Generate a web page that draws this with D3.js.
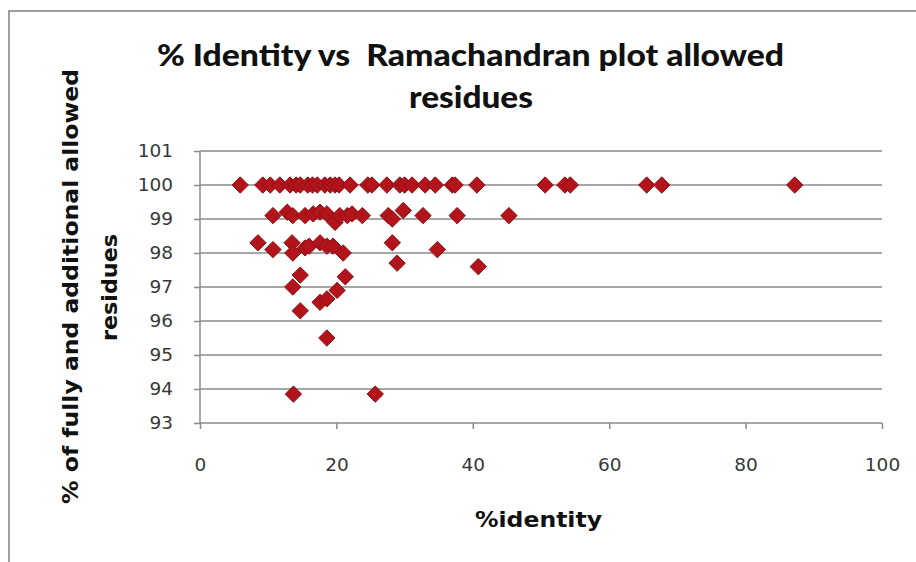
<!DOCTYPE html>
<html><head><meta charset="utf-8">
<script src="https://cdn.jsdelivr.net/npm/d3@7"></script>
<style>body{margin:0;background:#fff}svg{display:block}text{white-space:pre}</style>
</head><body>
<svg id="c" width="916" height="562"></svg>
<script>
// % identity values and % allowed residues
const identity = [
  5.9, 9.2, 10.3, 11.7, 13.2, 14.1, 14.7, 15.8, 16.5, 17.2, 18.3, 19.1, 19.8, 20.4, 22.0, 24.6, 25.2, 27.4, 29.3, 30.0, 31.1, 33.0, 34.5, 37.0, 37.4, 40.6, 50.6, 53.5, 54.3, 65.5, 67.7, 87.2,
  10.7, 12.8, 13.6, 15.4, 16.6, 17.6, 18.6, 19.8, 20.5, 21.6, 22.3, 23.8, 27.6, 28.2, 29.8, 32.7, 37.7, 45.3,
  8.5, 10.7, 13.5, 13.6, 15.4, 16.0, 17.6, 18.6, 19.5, 21.0, 28.2, 28.9, 34.8, 40.8,
  14.7, 13.6, 21.3, 20.1, 17.6, 18.6, 14.7, 18.6, 13.7, 25.7
];
const allowed = [
  100, 100, 100, 100, 100, 100, 100, 100, 100, 100, 100, 100, 100, 100, 100, 100, 100, 100, 100, 100, 100, 100, 100, 100, 100, 100, 100, 100, 100, 100, 100, 100,
  99.1, 99.2, 99.1, 99.1, 99.15, 99.2, 99.15, 98.9, 99.1, 99.1, 99.15, 99.1, 99.1, 99.0, 99.25, 99.1, 99.1, 99.1,
  98.3, 98.1, 98.3, 98.0, 98.15, 98.2, 98.3, 98.2, 98.2, 98.0, 98.3, 97.7, 98.1, 97.6,
  97.35, 97.0, 97.3, 96.9, 96.55, 96.65, 96.3, 95.5, 93.85, 93.85
];
const xTicks = [0, 20, 40, 60, 80, 100];
const yTicks = [93, 94, 95, 96, 97, 98, 99, 100, 101];
const titleLines = ["% Identity vs  Ramachandran plot allowed", "residues"];
const yTitleLines = ["% of fully and additional allowed", "residues"];
const xTitle = "%identity";

const svg = d3.select("#c");
const titleFont = "Lato, 'Open Sans', sans-serif";
const axisFont = "'DejaVu Sans', Verdana, sans-serif";
const L = 200, R = 882, T = 151, B = 423;
const x = d3.scaleLinear().domain([0, 100]).range([L, R]);
const y = d3.scaleLinear().domain([93, 101]).range([B, T]);

// frame
svg.append("path").attr("d", "M9,562 V11 H916").attr("fill", "none")
  .attr("stroke", "#a0a0a0").attr("stroke-width", 2);

// gridlines
svg.append("g").selectAll("line").data(yTicks.filter(d => d > 93)).join("line")
  .attr("x1", L).attr("x2", R).attr("y1", d => y(d)).attr("y2", d => y(d))
  .attr("stroke", "#8a8a8a").attr("stroke-width", 1.5);

// axes
const yAxis = svg.append("g").attr("transform", `translate(${L},0)`)
  .call(d3.axisLeft(y).tickValues(yTicks).tickSize(6).tickPadding(21).tickFormat(d3.format("d")));
const xAxis = svg.append("g").attr("transform", `translate(0,${B})`)
  .call(d3.axisBottom(x).tickValues(xTicks).tickSize(6).tickPadding(29).tickFormat(d3.format("d")));
[yAxis, xAxis].forEach(g => {
  g.select(".domain").attr("stroke", "#8a8a8a").attr("stroke-width", 1.5);
  g.selectAll(".tick line").attr("stroke", "#8a8a8a").attr("stroke-width", 1.5);
  g.selectAll("text").attr("font-family", axisFont).attr("font-size", 18.5).attr("fill", "#383838");
});
xAxis.select(".domain").attr("d", `M${L},0H${R}`);
yAxis.select(".domain").attr("d", `M0,${T}V${B}`);

// points
const diamond = d3.symbol().type(d3.symbolDiamond2).size(170);
svg.append("g").selectAll("path").data(identity.map((v, i) => [v, allowed[i]])).join("path")
  .attr("d", diamond)
  .attr("transform", d => `translate(${x(d[0])},${y(d[1])})`)
  .attr("fill", "#b3141b").attr("stroke", "#8a0f13").attr("stroke-width", 1);

// titles
svg.append("text").attr("x", 157).attr("y", 66)
  .attr("textLength", 627).attr("lengthAdjust", "spacingAndGlyphs")
  .attr("font-family", titleFont).attr("font-weight", "900").attr("font-size", 31).attr("fill", "#111")
  .text(titleLines[0]);
svg.append("text").attr("x", 409).attr("y", 108)
  .attr("textLength", 124).attr("lengthAdjust", "spacingAndGlyphs")
  .attr("font-family", titleFont).attr("font-weight", "900").attr("font-size", 31).attr("fill", "#111")
  .text(titleLines[1]);

const yt = svg.append("g").attr("transform", "translate(0,287) rotate(-90)");
yt.append("text").attr("x", -217).attr("y", 78)
  .attr("textLength", 435).attr("lengthAdjust", "spacingAndGlyphs")
  .attr("font-family", axisFont).attr("font-weight", "bold").attr("font-size", 22).attr("fill", "#111")
  .text(yTitleLines[0]);
yt.append("text").attr("x", -54).attr("y", 117)
  .attr("textLength", 107).attr("lengthAdjust", "spacingAndGlyphs")
  .attr("font-family", axisFont).attr("font-weight", "bold").attr("font-size", 22).attr("fill", "#111")
  .text(yTitleLines[1]);

svg.append("text").attr("x", 475).attr("y", 527)
  .attr("textLength", 127).attr("lengthAdjust", "spacingAndGlyphs")
  .attr("font-family", axisFont).attr("font-weight", "bold").attr("font-size", 22).attr("fill", "#111")
  .text(xTitle);
</script>
</body></html>
